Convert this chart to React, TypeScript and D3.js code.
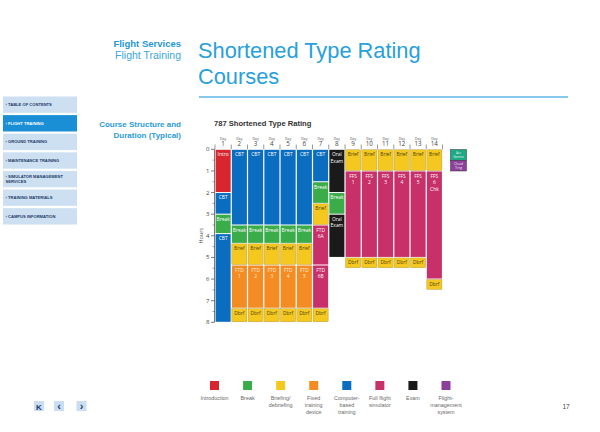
import * as d3 from "d3";

const days = ["1", "2", "3", "4", "5", "6", "7", "8", "9", "10", "11", "12", "13", "14"];
const hourTicks = [0, 1, 2, 3, 4, 5, 6, 7, 8];

// [day, start hour, end hour, kind, label]
const schedule: [string, number, number, string, string][] = [
  ["1", 0, 2, "intro", "Intro"],
  ["1", 2, 3, "cbt", "CBT"],
  ["1", 3, 3.9, "break", "Break"],
  ["1", 3.9, 8, "cbt", "CBT"],
  ["2", 0, 3.5, "cbt", "CBT"],
  ["2", 3.5, 4.35, "break", "Break"],
  ["2", 4.35, 5.35, "brief", "Brief"],
  ["2", 5.35, 7.35, "ftd", "FTD\n1"],
  ["2", 7.35, 8, "brief", "Dbrf"],
  ["3", 0, 3.5, "cbt", "CBT"],
  ["3", 3.5, 4.35, "break", "Break"],
  ["3", 4.35, 5.35, "brief", "Brief"],
  ["3", 5.35, 7.35, "ftd", "FTD\n2"],
  ["3", 7.35, 8, "brief", "Dbrf"],
  ["4", 0, 3.5, "cbt", "CBT"],
  ["4", 3.5, 4.35, "break", "Break"],
  ["4", 4.35, 5.35, "brief", "Brief"],
  ["4", 5.35, 7.35, "ftd", "FTD\n3"],
  ["4", 7.35, 8, "brief", "Dbrf"],
  ["5", 0, 3.5, "cbt", "CBT"],
  ["5", 3.5, 4.35, "break", "Break"],
  ["5", 4.35, 5.35, "brief", "Brief"],
  ["5", 5.35, 7.35, "ftd", "FTD\n4"],
  ["5", 7.35, 8, "brief", "Dbrf"],
  ["6", 0, 3.5, "cbt", "CBT"],
  ["6", 3.5, 4.35, "break", "Break"],
  ["6", 4.35, 5.35, "brief", "Brief"],
  ["6", 5.35, 7.35, "ftd", "FTD\n5"],
  ["6", 7.35, 8, "brief", "Dbrf"],
  ["7", 0, 1.5, "cbt", "CBT"],
  ["7", 1.5, 2.5, "break", "Break"],
  ["7", 2.5, 3.5, "brief", "Brief"],
  ["7", 3.5, 5.35, "ffs", "FTD\n6A"],
  ["7", 5.35, 7.35, "ffs", "FTD\n6B"],
  ["7", 7.35, 8, "brief", "Dbrf"],
  ["8", 0, 2, "exam", "Oral\nExam"],
  ["8", 2, 3, "break", "Break"],
  ["8", 3, 5, "exam", "Oral\nExam"],
  ["9", 0, 1, "brief", "Brief"],
  ["9", 1, 5, "ffs", "FFS\n1"],
  ["9", 5, 5.5, "brief", "Dbrf"],
  ["10", 0, 1, "brief", "Brief"],
  ["10", 1, 5, "ffs", "FFS\n2"],
  ["10", 5, 5.5, "brief", "Dbrf"],
  ["11", 0, 1, "brief", "Brief"],
  ["11", 1, 5, "ffs", "FFS\n3"],
  ["11", 5, 5.5, "brief", "Dbrf"],
  ["12", 0, 1, "brief", "Brief"],
  ["12", 1, 5, "ffs", "FFS\n4"],
  ["12", 5, 5.5, "brief", "Dbrf"],
  ["13", 0, 1, "brief", "Brief"],
  ["13", 1, 5, "ffs", "FFS\n5"],
  ["13", 5, 5.5, "brief", "Dbrf"],
  ["14", 0, 1, "brief", "Brief"],
  ["14", 1, 6, "ffs", "FFS\n6\nChk"],
  ["14", 6, 6.5, "brief", "Dbrf"],
];

const legendKinds = ["intro", "break", "brief", "ftd", "cbt", "ffs", "exam", "fms"];
const legendLabels = [
  "Introduction",
  "Break",
  "Briefing/\ndebriefing",
  "Fixed\ntraining\ndevice",
  "Computer-\nbased\ntraining",
  "Full flight\nsimulator",
  "Exam",
  "Flight-\nmanagement\nsystem",
];
const sideKinds = ["acc", "fms"];
const sideLabels = ["Acc\nGames", "Cloud\nTrng"];

const menuItems = [
  "TABLE OF CONTENTS",
  "FLIGHT TRAINING",
  "GROUND TRAINING",
  "MAINTENANCE TRAINING",
  "SIMULATOR MANAGEMENT\nSERVICES",
  "TRAINING MATERIALS",
  "CAMPUS INFORMATION",
];
const activeMenu = "FLIGHT TRAINING";

const fills: Record<string, string> = {
  intro: "#d7262e",
  break: "#3aac4a",
  brief: "#f4c81f",
  ftd: "#f58b23",
  cbt: "#0a6dbf",
  ffs: "#c8306a",
  exam: "#1b1a1a",
  fms: "#8d3f9c",
  acc: "#1caa86",
};
const inkOn: Record<string, string> = {
  brief: "#4e4210",
  ftd: "#fff1d8",
};

const sans = "'Liberation Sans', Arial, sans-serif";
const body = "'Open Sans', 'DejaVu Sans', sans-serif";

export default function App() {
  const x = d3.scaleBand<string>().domain(days).range([215, 442.5]);
  const y = d3.scaleLinear().domain([0, 8]).range([149.3, 322.3]);
  const legendX = d3.scalePoint<string>().domain(legendKinds).range([214.5, 446]);
  const menuY = d3.scaleBand<string>().domain(menuItems).range([96.5, 224.5]).paddingInner(0.12);
  const sideY = d3.scaleBand<string>().domain(sideKinds).range([149.5, 171]);
  const minor = d3.range(0.5, 8, 1);

  return (
    <svg
      width={600}
      height={432}
      style={{ position: "absolute", left: 0, top: 0, background: "#fff" }}
      fontFamily={sans}
    >
      {/* header */}
      <text x={181} y={47} textAnchor="end" fontSize={9.5} fontWeight="bold" fill="#1f97d6">
        Flight Services
      </text>
      <text x={181} y={59} textAnchor="end" fontSize={10.5} fill="#3aa6dd">
        Flight Training
      </text>
      <text x={198} y={57.5} fontSize={21.8} fill="#27a0dc">
        Shortened Type Rating
      </text>
      <text x={198} y={84} fontSize={21.8} fill="#27a0dc">
        Courses
      </text>
      <line x1={199} x2={568} y1={97} y2={97} stroke="#5db6e6" strokeWidth={1.4} />

      {/* side menu */}
      {menuItems.map((m) => {
        const active = m === activeMenu;
        const lines = m.split("\n");
        const top = menuY(m) as number;
        const h = menuY.bandwidth();
        return (
          <g key={m}>
            <rect x={3} y={top} width={74} height={h} fill={active ? "#1a8fd5" : "#cde0f2"} />
            {lines.map((l, i) => (
              <text
                key={i}
                x={5.5}
                y={top + h / 2 + 1.5 + (i - (lines.length - 1) / 2) * 5.6}
                fontSize={4.1}
                fontWeight="bold"
                fill={active ? "#ffffff" : "#223a66"}
              >
                {i === 0 ? "› " + l : "  " + l}
              </text>
            ))}
          </g>
        );
      })}

      <text x={181} y={127} textAnchor="end" fontSize={8} fontWeight="bold" fill="#2b9bd8">
        Course Structure and
      </text>
      <text x={181} y={137.5} textAnchor="end" fontSize={8} fontWeight="bold" fill="#2b9bd8">
        Duration (Typical)
      </text>
      <text x={214} y={126} fontSize={7.6} fontWeight="bold" fill="#333">
        787 Shortened Type Rating
      </text>

      {/* day labels */}
      {days.map((d) => {
        const cx = (x(d) as number) + x.bandwidth() / 2;
        return (
          <g key={d} fill="#444">
            <text x={cx} y={139.5} textAnchor="middle" fontSize={3.4} fontFamily={body}>
              Day
            </text>
            <text x={cx} y={146} textAnchor="middle" fontSize={6.2} fontFamily={body}>
              {d}
            </text>
          </g>
        );
      })}
      {days.concat(["end"]).map((d) => {
        const bx = d === "end" ? x.range()[1] : (x(d) as number);
        return <line key={"t" + d} x1={bx} x2={bx} y1={144.5} y2={149.3} stroke="#555" strokeWidth={0.6} />;
      })}

      {/* y axis */}
      <line x1={214.5} x2={214.5} y1={y(0)} y2={y(8)} stroke="#444" strokeWidth={0.7} />
      {hourTicks.map((h) => (
        <g key={h}>
          <line x1={211} x2={214.5} y1={y(h)} y2={y(h)} stroke="#444" strokeWidth={0.7} />
          <text x={209.5} y={y(h) + 2} textAnchor="end" fontSize={6} fontFamily={body} fill="#444">
            {h}
          </text>
        </g>
      ))}
      {minor.map((h) => (
        <line key={h} x1={212.5} x2={214.5} y1={y(h)} y2={y(h)} stroke="#444" strokeWidth={0.5} />
      ))}
      <text
        transform={`translate(203,${y(4)}) rotate(-90)`}
        textAnchor="middle"
        fontSize={5.5}
        fontFamily={body}
        fill="#555"
      >
        Hours
      </text>

      {/* schedule blocks */}
      {schedule.map(([d, s, e, kind, label], i) => {
        const bx = x(d) as number;
        const bw = x.bandwidth();
        const top = y(s);
        const lines = label.split("\n");
        return (
          <g key={i}>
            <rect
              x={bx + 0.6}
              y={top + 0.5}
              width={bw - 1.2}
              height={y(e) - top - 1}
              fill={fills[kind]}
              stroke={kind === "brief" ? "#a8913a" : "none"}
              strokeWidth={0.4}
            />
            {lines.map((l, j) => (
              <text
                key={j}
                x={bx + bw / 2}
                y={top + 6.8 + j * 6.4}
                textAnchor="middle"
                fontSize={4.9}
                fontFamily={body}
                fill={inkOn[kind] ?? "#ffffff"}
              >
                {l}
              </text>
            ))}
          </g>
        );
      })}

      {/* side boxes */}
      {sideKinds.map((k, i) => {
        const top = sideY(k) as number;
        const lines = sideLabels[i].split("\n");
        return (
          <g key={k}>
            <rect x={450.5} y={top} width={16} height={sideY.bandwidth()} fill={fills[k]} stroke="#333" strokeWidth={0.5} />
            {lines.map((l, j) => (
              <text key={j} x={458.5} y={top + 4.3 + j * 4.6} textAnchor="middle" fontSize={3.3} fontFamily={body} fill="#eee">
                {l}
              </text>
            ))}
          </g>
        );
      })}

      {/* legend */}
      {legendKinds.map((k, i) => {
        const cx = legendX(k) as number;
        const lines = legendLabels[i].split("\n");
        return (
          <g key={k}>
            <rect x={cx - 4.5} y={381} width={9} height={9} fill={fills[k]} />
            {lines.map((l, j) => (
              <text key={j} x={cx} y={400 + j * 6.8} textAnchor="middle" fontSize={5.4} fill="#6a6a6a">
                {l}
              </text>
            ))}
          </g>
        );
      })}

      {/* navigation */}
      {["K", "‹", "›"].map((g, i) => {
        const bx = [34, 54, 76.5][i];
        return (
          <g key={g}>
            <rect x={bx} y={401} width={10} height={10} fill="#c9def3" />
            <text x={bx + 5} y={409.5} textAnchor="middle" fontSize={i === 0 ? 8 : 11} fontWeight="bold" fill="#1f3a68">
              {g}
            </text>
          </g>
        );
      })}
      <text x={566} y={409} textAnchor="middle" fontSize={6.5} fill="#444">
        17
      </text>
    </svg>
  );
}
